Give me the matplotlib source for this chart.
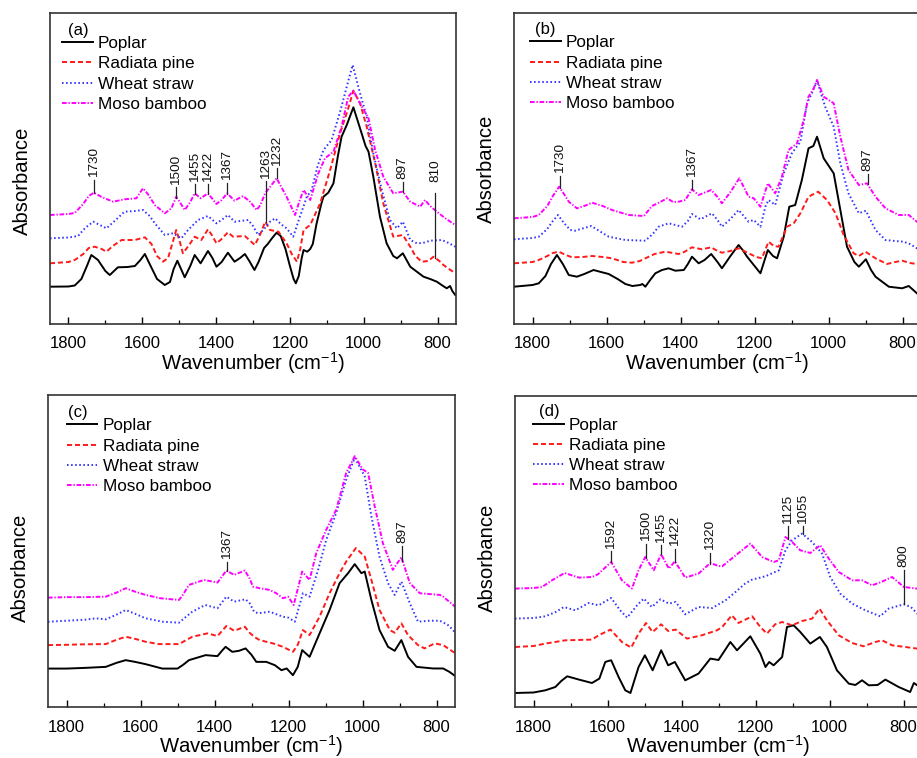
import numpy as np
import matplotlib
matplotlib.use("Agg")
import matplotlib.pyplot as plt
from matplotlib.ticker import MultipleLocator

plt.rcParams['font.family'] = ['Liberation Sans', 'DejaVu Sans']
plt.rcParams['mathtext.default'] = 'regular'

series_names = ["Poplar", "Radiata pine", "Wheat straw", "Moso bamboo"]
panel_tags = ["(a)", "(b)", "(c)", "(d)"]

# FTIR spectra: (wavenumber cm-1, absorbance in arbitrary units)
a_poplar = [(1850, 37.3), (1800, 37.5), (1783, 38.5), (1765, 45), (1750, 58), (1738, 69), (1720, 64), (1700, 53),
            (1688, 49), (1666, 56.7), (1640, 57), (1620, 58), (1605, 64), (1593, 70), (1580, 60), (1560, 45),
            (1539, 39), (1525, 42), (1515, 55), (1505, 63.3), (1495, 55), (1485, 46.7), (1470, 58), (1458, 69),
            (1442, 60.7), (1422, 73), (1410, 66), (1399, 57.3), (1385, 62), (1368, 71.3), (1350, 62.3), (1335, 66),
            (1322, 70), (1310, 63), (1296, 54), (1285, 62), (1270, 76), (1260, 80), (1248, 86), (1236, 91.3),
            (1225, 88), (1212, 75), (1200, 58), (1190, 45), (1184, 40.7), (1176, 48), (1168, 66), (1163, 74),
            (1153, 72.3), (1145, 75), (1138, 80), (1128, 100), (1115, 120), (1109, 127.3), (1096, 131.3),
            (1082, 140.7), (1070, 168), (1060, 187.3), (1046, 199), (1028, 216.7), (1010, 195.7), (995, 178),
            (987, 172.3), (974, 147.3), (956, 107.3), (938, 80.7), (920, 68), (910, 65.7), (894, 70.7), (874, 57.3),
            (855, 52), (838, 47.3), (820, 45), (802, 42.3), (785, 38), (775, 35.7), (766, 38), (760, 33), (752, 29)]
a_pine = [(1850, 60.7), (1800, 62), (1783, 64), (1760, 70), (1745, 76), (1729, 77.3), (1710, 75), (1697, 72.3),
          (1680, 78), (1656, 84), (1620, 84), (1593, 86.7), (1575, 80), (1560, 68), (1544, 62.3), (1530, 66),
          (1515, 85), (1508, 94), (1498, 82), (1490, 70.7), (1475, 78), (1458, 87.3), (1440, 84), (1422, 94.7),
          (1410, 88), (1399, 80.7), (1385, 85), (1368, 91.7), (1354, 87.3), (1322, 88), (1310, 84), (1295, 79),
          (1280, 90), (1267, 102.3), (1254, 94), (1231, 92.3), (1209, 80.7), (1195, 70), (1181, 62.3), (1172, 75),
          (1163, 94), (1145, 99), (1118, 120.7), (1091, 154), (1064, 190.7), (1042, 215.7), (1028, 233.3),
          (1010, 220.7), (992, 197.3), (969, 160.7), (947, 120.7), (920, 87.3), (894, 89), (874, 77.3), (860, 68),
          (843, 62.3), (825, 63), (811, 67.3), (795, 63), (784, 59), (765, 54), (752, 50.7)]
a_wheat = [(1850, 85.7), (1800, 86.5), (1774, 88), (1755, 96), (1733, 102.3), (1715, 99), (1697, 95.7), (1675, 103),
           (1648, 112.3), (1620, 113), (1598, 114), (1580, 108), (1566, 100.7), (1539, 89), (1517, 90.7),
           (1494, 85.7), (1476, 94), (1449, 104), (1422, 108), (1399, 100.7), (1385, 104), (1368, 109),
           (1350, 102.3), (1313, 104), (1300, 98), (1286, 89), (1270, 95), (1254, 102.3), (1240, 105.7), (1225, 100),
           (1209, 95.7), (1191, 87.3), (1173, 107.3), (1154, 127.3), (1141, 134), (1125, 158), (1109, 174),
           (1087, 184), (1064, 212.3), (1046, 237.3), (1030, 259), (1010, 230.7), (992, 207.3), (974, 170.7),
           (951, 134), (929, 104), (910, 95.7), (894, 102.3), (874, 84), (856, 80.7), (840, 81), (820, 83.3),
           (788, 84), (770, 81), (752, 77.3)]
a_bamboo = [(1850, 109), (1800, 110), (1783, 111), (1760, 120), (1745, 128), (1731, 131.3), (1710, 127),
            (1679, 122.3), (1648, 124.7), (1616, 125.7), (1605, 132), (1598, 135.7), (1585, 130), (1566, 119),
            (1539, 110.7), (1521, 115.7), (1508, 127.3), (1495, 120), (1485, 114), (1470, 122), (1458, 130.7),
            (1442, 125.7), (1422, 130.7), (1399, 120), (1385, 124), (1370, 130.7), (1350, 123.3), (1327, 128),
            (1308, 122.3), (1290, 114), (1280, 119), (1267, 130.7), (1236, 145.7), (1209, 127.3), (1186, 109),
            (1175, 122), (1163, 134), (1145, 124), (1123, 150.7), (1105, 165.7), (1082, 172.3), (1060, 197.3),
            (1042, 227.3), (1028, 233.3), (1005, 217.3), (987, 205.7), (969, 174), (947, 147.3), (920, 130.7),
            (894, 132.3), (874, 122.3), (847, 117.3), (834, 124), (820, 118), (802, 112.3), (780, 106), (752, 99)]

b_poplar = [(1850, 37.3), (1800, 39), (1783, 40.7), (1765, 48), (1750, 60), (1734, 69), (1718, 60), (1702, 49),
            (1680, 47.3), (1660, 50), (1635, 54), (1615, 52), (1594, 50), (1570, 45), (1549, 40), (1530, 38),
            (1509, 39), (1503, 40), (1495, 37.3), (1480, 45), (1468, 50.7), (1450, 54), (1432, 55.7), (1414, 53.3),
            (1391, 54), (1380, 60), (1369, 67.3), (1351, 60.7), (1335, 64), (1317, 70), (1300, 62), (1288, 55.7),
            (1265, 68), (1243, 79), (1232, 74), (1220, 67.3), (1202, 59), (1184, 50.7), (1164, 74), (1150, 68),
            (1139, 65.7), (1121, 87.3), (1106, 117.3), (1090, 119), (1072, 144), (1054, 175.7), (1041, 178),
            (1031, 187.3), (1013, 165.7), (986, 150.7), (968, 114), (950, 77.3), (930, 62), (918, 57.3), (899, 64.7),
            (885, 54), (873, 47.3), (837, 37.3), (801, 35.7), (783, 38), (761, 30.7), (750, 27)]
b_pine = [(1850, 60.7), (1800, 62), (1783, 64), (1760, 68), (1745, 71), (1729, 72.3), (1710, 69), (1693, 66.7),
          (1665, 67), (1639, 68), (1610, 67), (1585, 65.7), (1555, 62), (1531, 61.3), (1510, 63), (1495, 65.7),
          (1470, 70), (1441, 72.3), (1420, 71), (1405, 70), (1390, 72), (1369, 76.7), (1342, 74.7), (1317, 76.7),
          (1300, 73), (1288, 71.3), (1265, 73), (1243, 75.7), (1216, 70.7), (1195, 67), (1180, 65.7), (1162, 82.3),
          (1148, 78), (1135, 77.3), (1112, 97.3), (1094, 100.7), (1076, 110.7), (1054, 127.3), (1028, 132.3),
          (1004, 124), (981, 110.7), (959, 89), (932, 70.7), (918, 68), (900, 72.3), (873, 65.7), (842, 60),
          (820, 62), (801, 63.3), (780, 61), (761, 60), (750, 58)]
b_wheat = [(1850, 84.7), (1800, 86), (1783, 87.3), (1760, 95), (1745, 103), (1731, 109), (1715, 101), (1698, 94),
           (1685, 93.3), (1660, 96), (1641, 98), (1615, 92), (1594, 87.3), (1549, 84), (1495, 83.3), (1475, 90),
           (1459, 97.3), (1432, 100.7), (1396, 97.3), (1380, 103), (1369, 110), (1346, 104.7), (1315, 110.7),
           (1300, 104), (1288, 97.3), (1265, 105), (1243, 114), (1216, 102.3), (1202, 104), (1184, 97.3),
           (1170, 118), (1162, 124), (1144, 119), (1121, 150.7), (1099, 170.7), (1076, 182.3), (1058, 220.7),
           (1045, 230.7), (1031, 243.3), (1009, 217.3), (986, 197.3), (968, 160.7), (946, 130.7), (918, 110.7),
           (899, 113.3), (873, 94), (846, 84), (820, 83), (797, 82.3), (780, 80), (761, 75.7), (750, 73)]
b_bamboo = [(1850, 105.7), (1800, 107), (1783, 109), (1760, 118), (1745, 128), (1728, 137.3), (1715, 130),
            (1702, 122.3), (1680, 115.7), (1660, 118), (1639, 121.3), (1610, 118), (1585, 114), (1540, 109),
            (1499, 108), (1477, 118), (1455, 122), (1436, 125.7), (1420, 122), (1405, 122.3), (1387, 124),
            (1369, 134.7), (1351, 129), (1317, 134), (1300, 127), (1288, 120.7), (1265, 132), (1241, 145.7),
            (1216, 127.3), (1202, 125.7), (1184, 117.3), (1164, 140.7), (1144, 130.7), (1126, 147.3), (1108, 174),
            (1085, 180.7), (1067, 204), (1054, 227.3), (1040, 235.7), (1031, 244), (1013, 227.3), (986, 220.7),
            (968, 187.3), (946, 154), (918, 139), (896, 140.7), (873, 127.3), (846, 115.7), (810, 109), (783, 109),
            (761, 102.3), (750, 99)]

c_poplar = [(1850, 38.3), (1800, 38.3), (1750, 39), (1694, 40), (1665, 44), (1640, 46.7), (1615, 45), (1586, 42.7),
            (1541, 38.3), (1500, 38.3), (1485, 42), (1469, 46.7), (1424, 51.7), (1392, 50.7), (1380, 56), (1370, 60),
            (1352, 55), (1334, 56), (1316, 58.4), (1300, 52), (1287, 45), (1260, 45), (1237, 41.7), (1219, 36.7),
            (1205, 38.4), (1188, 31.7), (1175, 40), (1163, 56.7), (1143, 50), (1116, 73.4), (1089, 96.7),
            (1062, 123.4), (1039, 133.4), (1021, 142.4), (1003, 133.4), (994, 135), (976, 106.7), (954, 76.7),
            (931, 60), (913, 56), (895, 66.7), (877, 50), (854, 40), (809, 38.4), (782, 38.4), (765, 35), (750, 31)]
c_pine = [(1850, 61.7), (1800, 62), (1750, 62.5), (1694, 62.7), (1665, 67), (1640, 70), (1615, 68), (1586, 65),
          (1550, 62.7), (1496, 62.7), (1480, 66), (1460, 70), (1419, 73.4), (1392, 70.7), (1368, 80.7), (1347, 76),
          (1318, 80), (1305, 74), (1293, 70), (1278, 66.7), (1242, 63.4), (1215, 60), (1188, 55), (1175, 62),
          (1161, 76.7), (1143, 71.7), (1116, 90), (1089, 113.4), (1062, 133.4), (1044, 145), (1018, 158.4),
          (994, 150), (976, 126.7), (954, 96.7), (926, 76.7), (913, 74), (895, 83.4), (877, 71.7), (850, 61.7),
          (832, 58.4), (805, 63.4), (782, 61.7), (755, 55), (750, 54)]
c_wheat = [(1850, 85), (1800, 86), (1750, 87), (1721, 88.4), (1694, 87.4), (1665, 92), (1640, 96.7), (1615, 93),
           (1586, 88.4), (1540, 85), (1496, 84), (1480, 89), (1460, 95), (1425, 101.7), (1392, 98.4), (1368, 110),
           (1347, 105), (1316, 107.4), (1305, 103.4), (1293, 95), (1282, 93.4), (1251, 95), (1215, 90), (1200, 89),
           (1183, 85), (1161, 113.4), (1143, 110), (1120, 136.7), (1098, 166.7), (1071, 193.4), (1044, 226.7),
           (1021, 248.4), (994, 230), (976, 190), (954, 150), (931, 123.4), (913, 111.7), (895, 125), (872, 103.4),
           (850, 85), (820, 86), (791, 86), (770, 82), (755, 76.7), (750, 74)]
c_bamboo = [(1850, 109), (1800, 109.5), (1750, 109.5), (1694, 110), (1665, 114), (1640, 118.4), (1615, 115),
            (1586, 111.7), (1546, 108.4), (1496, 106.7), (1485, 112), (1469, 121.7), (1428, 126.7), (1392, 124),
            (1368, 136), (1347, 131.7), (1318, 136), (1305, 128), (1296, 120), (1278, 118.4), (1251, 116.7),
            (1233, 113.4), (1215, 108.4), (1201, 110), (1186, 101.7), (1163, 135), (1143, 126.7), (1125, 153.4),
            (1098, 176.7), (1071, 196.7), (1044, 233.4), (1021, 250), (999, 236.7), (985, 233.4), (967, 200),
            (945, 163.4), (918, 136.7), (895, 149.4), (872, 123.4), (845, 113.4), (791, 111.7), (782, 110),
            (755, 101.7), (750, 100)]

d_poplar = [(1850, 14), (1800, 14.5), (1768, 16.7), (1741, 20), (1725, 26), (1709, 30.7), (1677, 27.4), (1642, 24),
            (1622, 28.4), (1606, 45), (1598, 46), (1590, 46.7), (1570, 30), (1552, 16.7), (1538, 14), (1516, 40),
            (1499, 51.7), (1478, 36.7), (1455, 56.7), (1436, 41.7), (1418, 45), (1390, 26.7), (1354, 33.4),
            (1322, 48.4), (1300, 47), (1268, 65), (1250, 56.7), (1214, 70.7), (1187, 53.4), (1173, 40), (1163, 45),
            (1151, 41.7), (1128, 50), (1115, 80), (1097, 81.7), (1079, 75), (1052, 63.4), (1026, 70), (1007, 60),
            (980, 36.7), (948, 23.4), (930, 22), (912, 26.7), (894, 21.7), (870, 22), (849, 27.4), (813, 20),
            (782, 15), (772, 24), (763, 21.7), (750, 18)]
d_pine = [(1850, 60), (1800, 61), (1768, 63.4), (1714, 66.7), (1642, 67.4), (1624, 71.7), (1592, 77.4), (1561, 65),
          (1536, 59.4), (1516, 73.4), (1496, 84), (1478, 75), (1455, 82.7), (1436, 76), (1416, 77.4), (1385, 68.4),
          (1345, 71.7), (1304, 76.7), (1290, 80), (1264, 91.7), (1246, 84), (1209, 90.7), (1187, 80), (1169, 73.4),
          (1147, 82.7), (1128, 85), (1101, 81.7), (1074, 86), (1047, 88.4), (1027, 98.4), (1007, 86.7),
          (975, 71.7), (939, 64), (908, 60.7), (876, 65), (858, 66.7), (831, 61.7), (795, 60), (763, 58.4),
          (750, 58)]
d_wheat = [(1850, 88.4), (1800, 89), (1768, 90.7), (1740, 95), (1718, 100), (1687, 96.7), (1651, 104),
           (1624, 101.7), (1590, 109), (1566, 96.7), (1547, 89.4), (1520, 101.7), (1502, 108.4), (1480, 100),
           (1457, 107.7), (1434, 103.4), (1416, 105), (1390, 92.7), (1354, 100), (1317, 99), (1281, 106.7),
           (1254, 115), (1228, 123.4), (1209, 127.4), (1173, 130.7), (1137, 136.7), (1119, 156.7), (1101, 166.7),
           (1074, 173.4), (1047, 165), (1020, 153.4), (998, 130), (971, 113.4), (939, 103.4), (903, 96.7),
           (863, 90.7), (840, 98.4), (799, 102.7), (780, 100), (763, 93.4), (750, 90)]
d_bamboo = [(1850, 118.4), (1800, 119), (1777, 120), (1750, 126.7), (1716, 134), (1677, 129.4), (1642, 130),
            (1626, 132.7), (1590, 145), (1561, 126.7), (1534, 118.4), (1516, 136.7), (1498, 150), (1475, 136.7),
            (1455, 152.7), (1434, 138.4), (1418, 145.7), (1390, 129.4), (1354, 133.4), (1322, 144), (1300, 141),
            (1290, 140.7), (1259, 150), (1214, 163.4), (1182, 150), (1151, 145), (1137, 146.7), (1119, 170),
            (1101, 165), (1079, 156.7), (1052, 154), (1025, 161.7), (1002, 148.4), (975, 135), (939, 126.7),
            (912, 126.7), (885, 121.7), (860, 125), (831, 130), (799, 120), (763, 118.4), (750, 117)]

# peak labels: (text, wavenumber, series index, top of marker line, bottom of text)
a_peaks = [("1730", 1730, 3, 144, 147), ("1500", 1509, 3, 137, 139), ("1455", 1457, 3, 140, 142),
           ("1422", 1421, 3, 140, 142), ("1367", 1371, 3, 141, 144), ("1263", 1266, 1, 143, 145),
           ("1232", 1236, 3, 156, 158), ("897", 894, 3, 142, 145), ("810", 807, 1, 131, 142)]
b_peaks = [("1730", 1725, 3, 148, 151), ("1367", 1369, 3, 144, 147), ("897", 894, 3, 150, 152.6)]
c_peaks = [("1367", 1365, 3, 145, 147.7), ("897", 892, 3, 160, 163.4)]
d_peaks = [("1592", 1590, 3, 156, 158.4), ("1500", 1496, 3, 163, 165.7), ("1455", 1455, 3, 162, 164.3),
           ("1422", 1417, 3, 158, 161), ("1320", 1324, 3, 154, 156.7), ("1125", 1112, 3, 181, 183.4),
           ("1055", 1072, 2, 181, 183.4), ("800", 799, 2, 137, 140)]

colors = ["black", "#ff1a1a", "#3333ff", "#ff00ff"]
styles = ["-", (0, (2.6, 1.5)), (0, (0.8, 1.3)), (0, (2.4, 0.9, 0.7, 0.9))]

W, H = 917, 758
# axes boxes in pixels: left, top, right, bottom
boxes = [(50, 13, 456, 324), (514, 13, 921, 324), (48, 395, 455, 707), (515, 396, 922, 707)]
legend_xy = [(0.030, 0.925), (0.039, 0.928), (0.046, 0.925), (0.044, 0.929)]
tag_xy = [(0.044, 0.968), (0.052, 0.971), (0.049, 0.968), (0.058, 0.973)]
ylabel_y = [0.46, 0.498, 0.447, 0.478]

panels = [
    ([a_poplar, a_pine, a_wheat, a_bamboo], a_peaks),
    ([b_poplar, b_pine, b_wheat, b_bamboo], b_peaks),
    ([c_poplar, c_pine, c_wheat, c_bamboo], c_peaks),
    ([d_poplar, d_pine, d_wheat, d_bamboo], d_peaks),
]

fig = plt.figure(figsize=(W / 100, H / 100), dpi=100)

for i, (spectra, peaks) in enumerate(panels):
    l, t, r, b = boxes[i]
    ax = fig.add_axes([l / W, 1 - b / H, (r - l) / W, (b - t) / H])

    for name, col, ls, pts in zip(series_names, colors, styles, spectra):
        wn, ab = np.array(pts).T
        ax.plot(wn, ab, color=col, linestyle=ls, lw=1.4, label=name)

    for txt, x, idx, top, tb in peaks:
        wn, ab = np.array(spectra[idx]).T
        y0 = np.interp(x, wn[::-1], ab[::-1])
        ax.plot([x, x], [y0, top], color="#222222", lw=0.9)
        ax.text(x, tb, txt, rotation=90, ha="center", va="bottom", fontsize=9.7, color="#111111")

    ax.set_xlim(1850, 750)
    ax.set_ylim(0, 311)
    ax.set_yticks([])
    ax.xaxis.set_major_locator(MultipleLocator(200))
    ax.xaxis.set_minor_locator(MultipleLocator(100))
    ax.tick_params(axis="x", which="major", direction="in", length=5, width=1.0, labelsize=12, pad=9)
    ax.tick_params(axis="x", which="minor", direction="in", length=3, width=0.9)
    for sp in ax.spines.values():
        sp.set_color("#333333")
        sp.set_linewidth(1.2)

    ax.set_xlabel(r"Wavenumber (cm$^{-1}$)", fontsize=14.6)
    ax.xaxis.set_label_coords(0.5, -0.085)
    ax.set_ylabel("Absorbance", fontsize=14.6)
    ax.yaxis.set_label_coords(-0.045, ylabel_y[i])

    ax.legend(loc="upper left", bbox_to_anchor=legend_xy[i], frameon=False, fontsize=12.3,
              handlelength=1.8, handletextpad=0.3, labelspacing=0.3, borderpad=0, borderaxespad=0)
    ax.text(tag_xy[i][0], tag_xy[i][1], panel_tags[i], transform=ax.transAxes,
            ha="left", va="top", fontsize=12)

fig.savefig("out.png", dpi=100)
